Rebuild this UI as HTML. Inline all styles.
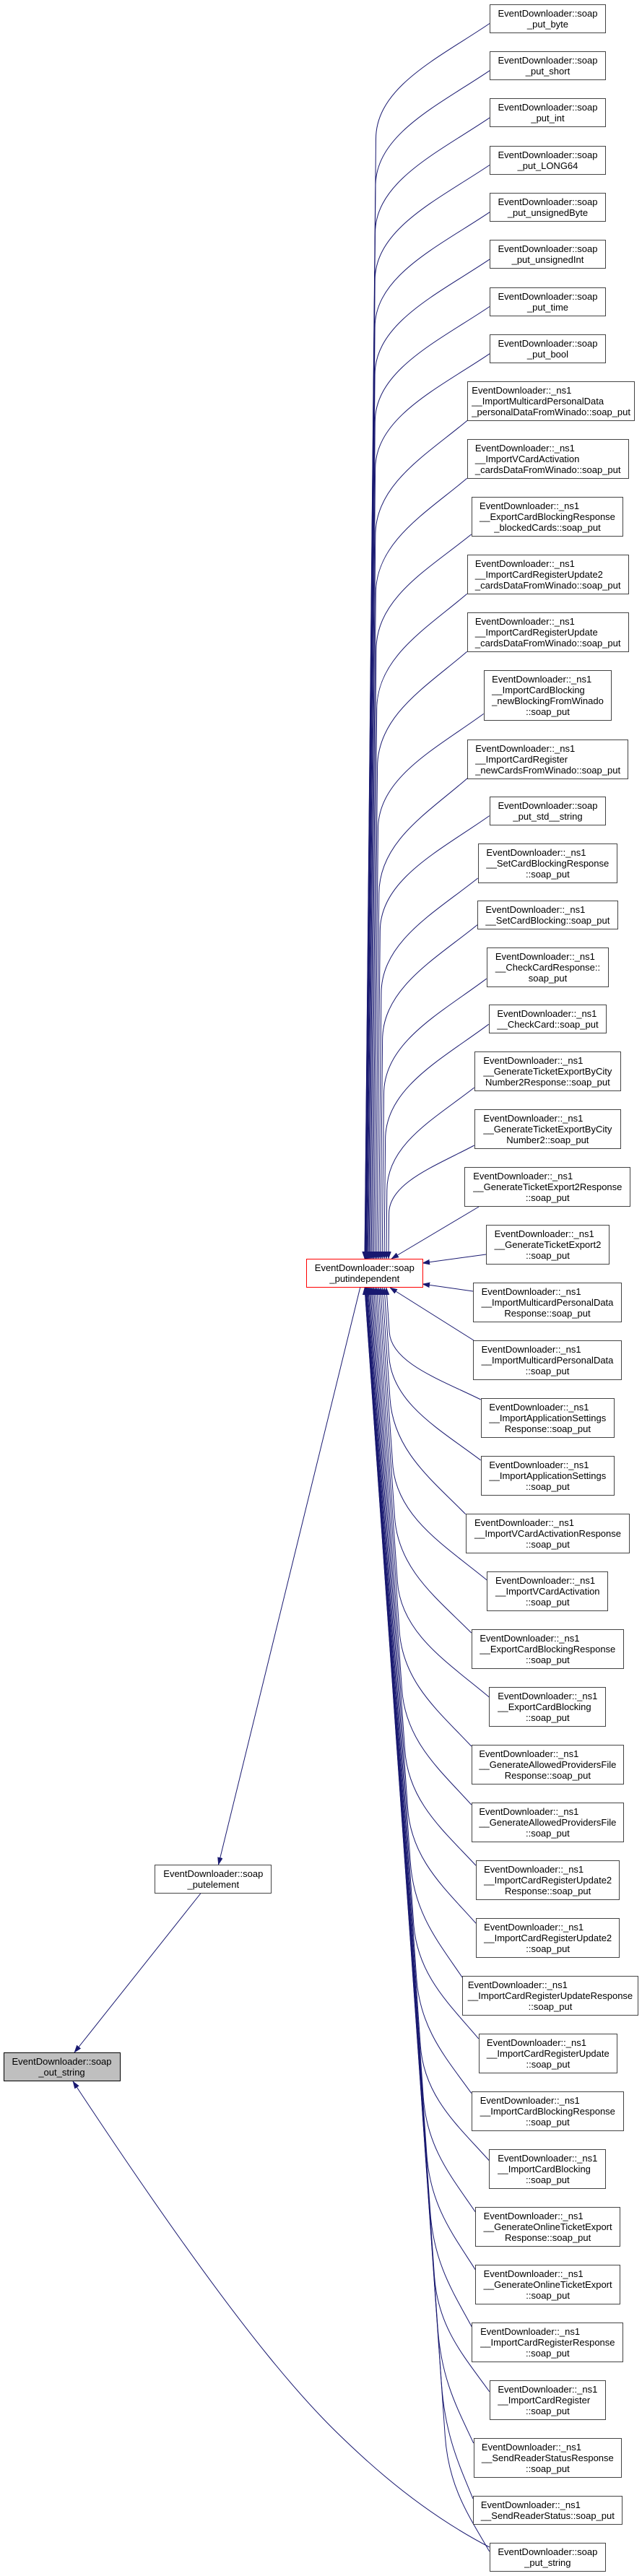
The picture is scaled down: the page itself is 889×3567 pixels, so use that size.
<!DOCTYPE html>
<html><head><meta charset="utf-8">
<style>
html,body{margin:0;padding:0;background:#fff;width:889px;height:3567px;overflow:hidden}
#wrap{position:relative;width:889px;height:3567px}
svg{position:absolute;left:0;top:0}
.e{fill:none;stroke:#191970;stroke-width:1;marker-end:url(#a)}
.n{position:absolute;box-sizing:border-box;border:1px solid #444;background:#fff;display:flex;align-items:center;justify-content:center;font:13px/15px "Liberation Sans",Arial,sans-serif;color:#000;white-space:nowrap}
.n>div{flex:none}
.c{text-align:center}
.r{border-color:#ff0000}
.g{background:#bfbfbf;border-color:#000}
</style></head><body><div id="wrap">
<svg width="889" height="3567" viewBox="0 0 889 3567">
<defs><marker id="a" markerUnits="userSpaceOnUse" markerWidth="11" markerHeight="8" refX="10" refY="3.5" orient="auto"><path d="M0,0L10,3.5L0,7z" fill="#191970" stroke="#191970" stroke-width="0.5"/></marker></defs>
<path class="e" d="M678,32.5C607.1,80.5 520.5,120.5 520.5,192.5L505,1743"/>
<path class="e" d="M678,97.8C606.9,145.8 520,185.8 520,257.8L505.1,1743"/>
<path class="e" d="M678,163.1C606.7,211.1 519.5,251.1 519.5,323.1L505.3,1743"/>
<path class="e" d="M678,228.5C606.5,276.5 519.2,316.5 519.2,388.5L505.7,1743"/>
<path class="e" d="M678,293.8C606.5,341.8 519.1,381.8 519.1,453.8L506.2,1743"/>
<path class="e" d="M678,359.1C606.5,407.1 519.1,447.1 519.1,519.1L506.9,1743"/>
<path class="e" d="M678,424.5C606.6,472.5 519.3,512.5 519.3,584.5L507.7,1743"/>
<path class="e" d="M678,489.8C606.7,537.8 519.6,577.8 519.6,649.8L508.7,1743"/>
<path class="e" d="M647.3,582.1C589.9,630.1 519.8,670.1 519.8,742.1L509.8,1743"/>
<path class="e" d="M646.7,662.3C589.8,710.3 520.3,750.3 520.3,822.3L511.1,1743"/>
<path class="e" d="M652.7,739.9C593.4,787.9 520.9,827.9 520.9,899.9L512.5,1743"/>
<path class="e" d="M646.7,822.3C590.4,870.3 521.7,910.3 521.7,982.3L514.1,1743"/>
<path class="e" d="M646.7,902.3C590.9,950.3 522.6,990.3 522.6,1062.3L515.8,1743"/>
<path class="e" d="M669.7,988.4C603.9,1036.4 523.5,1076.4 523.5,1148.4L517.6,1743"/>
<path class="e" d="M647.3,1077.6C592.2,1125.6 524.8,1165.6 524.8,1237.6L519.7,1743"/>
<path class="e" d="M677.7,1129.6C609.6,1177.6 526.3,1217.6 526.3,1289.6L521.8,1743"/>
<path class="e" d="M661.7,1216C601.5,1264 527.9,1304 527.9,1376L524.2,1743"/>
<path class="e" d="M661,1280.6C601.9,1328.6 529.6,1368.6 529.6,1440.6L526.6,1743"/>
<path class="e" d="M673.7,1355.2C609.7,1403.2 531.5,1443.2 531.5,1515.2L529.2,1743"/>
<path class="e" d="M676.7,1418.3C612.3,1466.3 533.6,1506.3 533.6,1578.3L532,1743"/>
<path class="e" d="M656.7,1506C602.3,1548.7 535.8,1584.2 535.8,1648.2L534.9,1743"/>
<path class="e" d="M656.7,1586C603.6,1614.3 538.6,1637.8 538.6,1680.2L538,1743"/>
<path class="e" d="M663,1671L542,1743"/>
<path class="e" d="M673,1737L585,1749"/>
<path class="e" d="M655,1788L585,1778"/>
<path class="e" d="M656,1856L540,1783"/>
<path class="e" d="M665.7,1938C608.8,1910.1 542.1,1886.8 539.2,1845L534.9,1783"/>
<path class="e" d="M665.7,2022C608.5,1979 543.2,1943.1 538.7,1878.6L532,1783"/>
<path class="e" d="M644.7,2096.7C597.6,2048.7 545,2008.7 540,1936.7L529.2,1783"/>
<path class="e" d="M674.3,2188C615.6,2140 548.8,2100 543.8,2028L526.6,1783"/>
<path class="e" d="M652.7,2261C604.9,2213 551.5,2173 546.5,2101L524.2,1783"/>
<path class="e" d="M677.3,2350C620.2,2302 555.3,2262 550.3,2190L521.8,1783"/>
<path class="e" d="M652.7,2418C607.8,2370 558,2330 553,2258L519.7,1783"/>
<path class="e" d="M652.7,2499C609.4,2451 561.5,2411 556.5,2339L517.6,1783"/>
<path class="e" d="M659,2583.2C614.7,2535.2 565.6,2495.2 560.6,2423.2L515.8,1783"/>
<path class="e" d="M659,2663.2C616.5,2615.2 569.5,2575.2 564.5,2503.2L514.1,1783"/>
<path class="e" d="M640,2738C607.7,2690 573.2,2650 568.2,2578L512.5,1783"/>
<path class="e" d="M662.7,2823C622.2,2775 577.7,2735 572.7,2663L511.1,1783"/>
<path class="e" d="M652.7,2898.5C618.5,2850.5 581.7,2810.5 576.7,2738.5L509.8,1783"/>
<path class="e" d="M677.3,2991.7C634.5,2943.7 587.1,2903.7 582.1,2831.7L508.7,1783"/>
<path class="e" d="M658.3,3063C625.8,3015 591.1,2975 586.1,2903L507.7,1783"/>
<path class="e" d="M658.3,3143C628,3095 595.9,3055 590.9,2983L506.9,1783"/>
<path class="e" d="M653.3,3222C627.4,3174 600.7,3134 595.7,3062L506.2,1783"/>
<path class="e" d="M677.7,3311.7C643.4,3263.7 606.5,3223.7 601.5,3151.7L505.7,1783"/>
<path class="e" d="M655.7,3383C633.4,3335 611.1,3295 606.1,3223L505.3,1783"/>
<path class="e" d="M655,3460C635.3,3412 616.3,3372 611.3,3300L505.1,1783"/>
<path class="e" d="M677.7,3533C650.1,3485 621.3,3445 616.3,3373L505,1783"/>
<path class="e" d="M498.7,1783L302.5,2582"/>
<path class="e" d="M277.7,2622L103,2842"/>
<path class="e" d="M677.7,3527C620,3497 560,3455 500,3400S350,3260 101,2882"/>
</svg>

<div class="n" style="left:677.7px;top:5.7px;width:161.6px;height:40px"><div><div>EventDownloader::soap</div><div class="c">_put_byte</div></div></div>
<div class="n" style="left:677.7px;top:71px;width:161.6px;height:40px"><div><div>EventDownloader::soap</div><div class="c">_put_short</div></div></div>
<div class="n" style="left:677.7px;top:136.3px;width:161.6px;height:40px"><div><div>EventDownloader::soap</div><div class="c">_put_int</div></div></div>
<div class="n" style="left:677.7px;top:201.7px;width:161.6px;height:40px"><div><div>EventDownloader::soap</div><div class="c">_put_LONG64</div></div></div>
<div class="n" style="left:677.7px;top:267px;width:161.6px;height:40px"><div><div>EventDownloader::soap</div><div class="c">_put_unsignedByte</div></div></div>
<div class="n" style="left:677.7px;top:332.3px;width:161.6px;height:40px"><div><div>EventDownloader::soap</div><div class="c">_put_unsignedInt</div></div></div>
<div class="n" style="left:677.7px;top:397.7px;width:161.6px;height:40px"><div><div>EventDownloader::soap</div><div class="c">_put_time</div></div></div>
<div class="n" style="left:677.7px;top:463px;width:161.6px;height:40px"><div><div>EventDownloader::soap</div><div class="c">_put_bool</div></div></div>
<div class="n" style="left:647.3px;top:528px;width:231.7px;height:55px"><div><div>EventDownloader::_ns1</div><div>__ImportMulticardPersonalData</div><div class="c">_personalDataFromWinado::soap_put</div></div></div>
<div class="n" style="left:646.7px;top:608px;width:224px;height:55px"><div><div>EventDownloader::_ns1</div><div>__ImportVCardActivation</div><div class="c">_cardsDataFromWinado::soap_put</div></div></div>
<div class="n" style="left:652.7px;top:688px;width:210.6px;height:55px"><div><div>EventDownloader::_ns1</div><div>__ExportCardBlockingResponse</div><div class="c">_blockedCards::soap_put</div></div></div>
<div class="n" style="left:646.7px;top:768px;width:224px;height:55px"><div><div>EventDownloader::_ns1</div><div>__ImportCardRegisterUpdate2</div><div class="c">_cardsDataFromWinado::soap_put</div></div></div>
<div class="n" style="left:646.7px;top:848px;width:224px;height:55px"><div><div>EventDownloader::_ns1</div><div>__ImportCardRegisterUpdate</div><div class="c">_cardsDataFromWinado::soap_put</div></div></div>
<div class="n" style="left:669.7px;top:928.3px;width:177.6px;height:70px"><div><div>EventDownloader::_ns1</div><div>__ImportCardBlocking</div><div>_newBlockingFromWinado</div><div class="c">::soap_put</div></div></div>
<div class="n" style="left:647.3px;top:1023.5px;width:222.7px;height:55px"><div><div>EventDownloader::_ns1</div><div>__ImportCardRegister</div><div class="c">_newCardsFromWinado::soap_put</div></div></div>
<div class="n" style="left:677.7px;top:1102.7px;width:161.6px;height:40px"><div><div>EventDownloader::soap</div><div class="c">_put_std__string</div></div></div>
<div class="n" style="left:661.7px;top:1167.7px;width:193.3px;height:55px"><div><div>EventDownloader::_ns1</div><div>__SetCardBlockingResponse</div><div class="c">::soap_put</div></div></div>
<div class="n" style="left:661px;top:1247px;width:194.7px;height:40px"><div><div>EventDownloader::_ns1</div><div class="c">__SetCardBlocking::soap_put</div></div></div>
<div class="n" style="left:673.7px;top:1311.7px;width:169.6px;height:55px"><div><div>EventDownloader::_ns1</div><div>__CheckCardResponse::</div><div class="c">soap_put</div></div></div>
<div class="n" style="left:676.7px;top:1391px;width:163.6px;height:40px"><div><div>EventDownloader::_ns1</div><div class="c">__CheckCard::soap_put</div></div></div>
<div class="n" style="left:656.7px;top:1455.7px;width:203.3px;height:55px"><div><div>EventDownloader::_ns1</div><div>__GenerateTicketExportByCity</div><div class="c">Number2Response::soap_put</div></div></div>
<div class="n" style="left:656.7px;top:1535.7px;width:203.3px;height:55px"><div><div>EventDownloader::_ns1</div><div>__GenerateTicketExportByCity</div><div class="c">Number2::soap_put</div></div></div>
<div class="n" style="left:643.3px;top:1615.7px;width:230px;height:55px"><div><div>EventDownloader::_ns1</div><div>__GenerateTicketExport2Response</div><div class="c">::soap_put</div></div></div>
<div class="n" style="left:673px;top:1695.7px;width:171px;height:55px"><div><div>EventDownloader::_ns1</div><div>__GenerateTicketExport2</div><div class="c">::soap_put</div></div></div>
<div class="n" style="left:655px;top:1775.7px;width:206px;height:55px"><div><div>EventDownloader::_ns1</div><div>__ImportMulticardPersonalData</div><div class="c">Response::soap_put</div></div></div>
<div class="n" style="left:655px;top:1855.7px;width:206px;height:55px"><div><div>EventDownloader::_ns1</div><div>__ImportMulticardPersonalData</div><div class="c">::soap_put</div></div></div>
<div class="n" style="left:665.7px;top:1935.7px;width:185.3px;height:55px"><div><div>EventDownloader::_ns1</div><div>__ImportApplicationSettings</div><div class="c">Response::soap_put</div></div></div>
<div class="n" style="left:665.7px;top:2015.7px;width:185.3px;height:55px"><div><div>EventDownloader::_ns1</div><div>__ImportApplicationSettings</div><div class="c">::soap_put</div></div></div>
<div class="n" style="left:644.7px;top:2095.7px;width:227.6px;height:55px"><div><div>EventDownloader::_ns1</div><div>__ImportVCardActivationResponse</div><div class="c">::soap_put</div></div></div>
<div class="n" style="left:674.3px;top:2175.7px;width:168px;height:55px"><div><div>EventDownloader::_ns1</div><div>__ImportVCardActivation</div><div class="c">::soap_put</div></div></div>
<div class="n" style="left:652.7px;top:2255.7px;width:211.3px;height:55px"><div><div>EventDownloader::_ns1</div><div>__ExportCardBlockingResponse</div><div class="c">::soap_put</div></div></div>
<div class="n" style="left:677.3px;top:2335.7px;width:162px;height:55px"><div><div>EventDownloader::_ns1</div><div>__ExportCardBlocking</div><div class="c">::soap_put</div></div></div>
<div class="n" style="left:652.7px;top:2415.7px;width:211.3px;height:55px"><div><div>EventDownloader::_ns1</div><div>__GenerateAllowedProvidersFile</div><div class="c">Response::soap_put</div></div></div>
<div class="n" style="left:652.7px;top:2495.7px;width:211.3px;height:55px"><div><div>EventDownloader::_ns1</div><div>__GenerateAllowedProvidersFile</div><div class="c">::soap_put</div></div></div>
<div class="n" style="left:659px;top:2575.7px;width:199.3px;height:55px"><div><div>EventDownloader::_ns1</div><div>__ImportCardRegisterUpdate2</div><div class="c">Response::soap_put</div></div></div>
<div class="n" style="left:659px;top:2655.7px;width:199.3px;height:55px"><div><div>EventDownloader::_ns1</div><div>__ImportCardRegisterUpdate2</div><div class="c">::soap_put</div></div></div>
<div class="n" style="left:640px;top:2735.7px;width:244px;height:55px"><div><div>EventDownloader::_ns1</div><div>__ImportCardRegisterUpdateResponse</div><div class="c">::soap_put</div></div></div>
<div class="n" style="left:662.7px;top:2815.7px;width:192.3px;height:55px"><div><div>EventDownloader::_ns1</div><div>__ImportCardRegisterUpdate</div><div class="c">::soap_put</div></div></div>
<div class="n" style="left:652.7px;top:2895.7px;width:211.3px;height:55px"><div><div>EventDownloader::_ns1</div><div>__ImportCardBlockingResponse</div><div class="c">::soap_put</div></div></div>
<div class="n" style="left:677.3px;top:2975.7px;width:162px;height:55px"><div><div>EventDownloader::_ns1</div><div>__ImportCardBlocking</div><div class="c">::soap_put</div></div></div>
<div class="n" style="left:658.3px;top:3055.7px;width:200.7px;height:55px"><div><div>EventDownloader::_ns1</div><div>__GenerateOnlineTicketExport</div><div class="c">Response::soap_put</div></div></div>
<div class="n" style="left:658.3px;top:3135.7px;width:200.7px;height:55px"><div><div>EventDownloader::_ns1</div><div>__GenerateOnlineTicketExport</div><div class="c">::soap_put</div></div></div>
<div class="n" style="left:653.3px;top:3215.7px;width:210px;height:55px"><div><div>EventDownloader::_ns1</div><div>__ImportCardRegisterResponse</div><div class="c">::soap_put</div></div></div>
<div class="n" style="left:677.7px;top:3295.7px;width:161.3px;height:55px"><div><div>EventDownloader::_ns1</div><div>__ImportCardRegister</div><div class="c">::soap_put</div></div></div>
<div class="n" style="left:655.7px;top:3375.7px;width:205.3px;height:55px"><div><div>EventDownloader::_ns1</div><div>__SendReaderStatusResponse</div><div class="c">::soap_put</div></div></div>
<div class="n" style="left:655px;top:3455.5px;width:206.7px;height:40px"><div><div>EventDownloader::_ns1</div><div class="c">__SendReaderStatus::soap_put</div></div></div>
<div class="n" style="left:677.7px;top:3520.5px;width:161.3px;height:40px"><div><div>EventDownloader::soap</div><div class="c">_put_string</div></div></div>

<div class="n r" style="left:424px;top:1743.3px;width:161.6px;height:40px"><div><div>EventDownloader::soap</div><div class="c">_putindependent</div></div></div>
<div class="n" style="left:214.3px;top:2582px;width:162px;height:40px"><div><div>EventDownloader::soap</div><div class="c">_putelement</div></div></div>
<div class="n g" style="left:4.5px;top:2842px;width:162px;height:40px"><div><div>EventDownloader::soap</div><div class="c">_out_string</div></div></div>
</div></body></html>
